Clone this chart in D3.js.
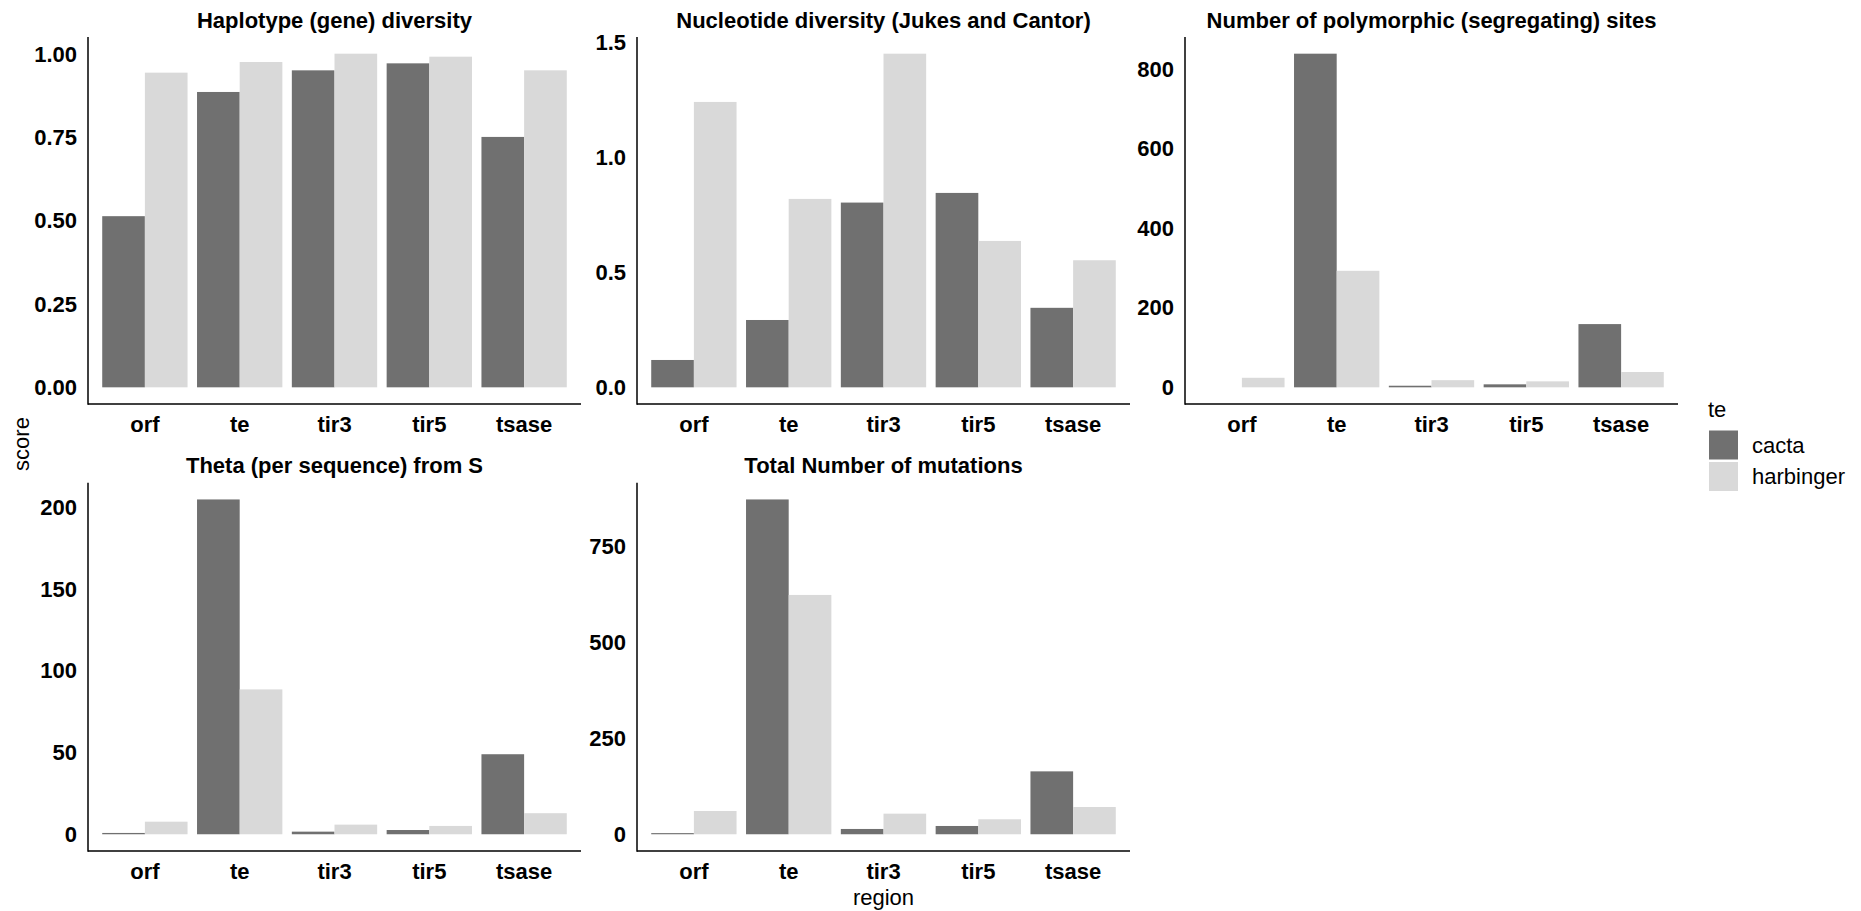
<!DOCTYPE html>
<html>
<head>
<meta charset="utf-8">
<script src="https://cdn.jsdelivr.net/npm/d3@7"></script>
<style>
  body { margin: 0; background: #fff; }
  text { font-family: "Liberation Sans", Arial, sans-serif; fill: #000; }
</style>
</head>
<body>
<div id="chart"></div>
<script>
// categories and series
var regions = ["orf", "te", "tir3", "tir5", "tsase"];
var teTypes = ["cacta", "harbinger"];
var panelTitles = [
    "Haplotype (gene) diversity",
    "Nucleotide diversity (Jukes and Cantor)",
    "Number of polymorphic (segregating) sites",
    "Theta (per sequence) from S",
    "Total Number of mutations"
];

// values, one array per panel and te type
var haploCacta = [0.514, 0.887, 0.952, 0.973, 0.752];
var haploHarb = [0.945, 0.977, 1.002, 0.993, 0.952];
var nucCacta = [0.119, 0.293, 0.804, 0.846, 0.346];
var nucHarb = [1.242, 0.82, 1.452, 0.637, 0.553];
var segCacta = [0, 839, 4, 7.5, 159];
var segHarb = [24, 293, 18, 15, 38.5];
var thetaCacta = [0.8, 205, 1.6, 2.6, 49];
var thetaHarb = [7.7, 88.7, 5.9, 5.1, 12.9];
var mutCacta = [3, 873, 13.8, 21.6, 164];
var mutHarb = [60.7, 624, 53.7, 39.1, 71];

var tickHaplo = [0, 0.25, 0.5, 0.75, 1];
var tickNuc = [0, 0.5, 1, 1.5];
var tickSeg = [0, 200, 400, 600, 800];
var tickTheta = [0, 50, 100, 150, 200];
var tickMut = [0, 250, 500, 750];

var W = 1861, H = 911;
var colors = { cacta: "#707070", harbinger: "#d9d9d9" };

var svg = d3.select("#chart").append("svg")
    .attr("width", W)
    .attr("height", H);

var cols = [[88, 581], [637, 1130], [1185, 1678]];
var rows = [[37, 404], [482.7, 851]];

var panels = [
    { title: panelTitles[0], cacta: haploCacta, harb: haploHarb, ticks: tickHaplo, fmt: d3.format(".2f"), col: 0, row: 0 },
    { title: panelTitles[1], cacta: nucCacta, harb: nucHarb, ticks: tickNuc, fmt: d3.format(".1f"), col: 1, row: 0 },
    { title: panelTitles[2], cacta: segCacta, harb: segHarb, ticks: tickSeg, fmt: d3.format("d"), col: 2, row: 0 },
    { title: panelTitles[3], cacta: thetaCacta, harb: thetaHarb, ticks: tickTheta, fmt: d3.format("d"), col: 0, row: 1 },
    { title: panelTitles[4], cacta: mutCacta, harb: mutHarb, ticks: tickMut, fmt: d3.format("d"), col: 1, row: 1 }
];

panels.forEach(function(p) {
    var x0 = cols[p.col][0], x1 = cols[p.col][1];
    var y0 = rows[p.row][0], y1 = rows[p.row][1];

    var rows2 = regions.map(function(r, i) {
        return { region: r, values: [
            { te: "cacta", v: p.cacta[i] },
            { te: "harbinger", v: p.harb[i] }
        ] };
    });
    var max = d3.max(p.cacta.concat(p.harb));

    var x = d3.scaleBand()
        .domain(regions)
        .range([x0, x1])
        .paddingInner(0.1)
        .paddingOuter(0.15);
    var xSub = d3.scaleBand()
        .domain(teTypes)
        .range([0, x.bandwidth()]);
    var y = d3.scaleLinear()
        .domain([-0.05 * max, 1.05 * max])
        .range([y1, y0]);

    var g = svg.append("g");

    // bars
    g.selectAll("g.grp")
        .data(rows2)
        .enter().append("g")
        .attr("class", "grp")
        .attr("transform", function(d) { return "translate(" + x(d.region) + ",0)"; })
        .selectAll("rect")
        .data(function(d) { return d.values; })
        .enter().append("rect")
        .attr("x", function(d) { return xSub(d.te); })
        .attr("width", xSub.bandwidth())
        .attr("y", function(d) { return y(d.v); })
        .attr("height", function(d) { return y(0) - y(d.v); })
        .attr("fill", function(d) { return colors[d.te]; });

    // y axis
    var ya = g.append("g")
        .attr("transform", "translate(" + x0 + ",0)")
        .call(d3.axisLeft(y).tickValues(p.ticks).tickFormat(p.fmt).tickSize(0).tickPadding(11));
    ya.select(".domain").remove();
    ya.selectAll("text")
        .style("font-size", "22px")
        .style("font-weight", "bold")
        .attr("fill", "#000");

    // x axis
    var xa = g.append("g")
        .attr("transform", "translate(0," + y1 + ")")
        .call(d3.axisBottom(x).tickSize(0).tickPadding(12));
    xa.select(".domain").remove();
    xa.selectAll("text")
        .style("font-size", "22px")
        .style("font-weight", "bold")
        .attr("fill", "#000");

    g.append("line")
        .attr("x1", x0).attr("x2", x0)
        .attr("y1", y0).attr("y2", y1 + 0.75)
        .attr("stroke", "#000").attr("stroke-width", 1.5);
    g.append("line")
        .attr("x1", x0).attr("x2", x1)
        .attr("y1", y1).attr("y2", y1)
        .attr("stroke", "#000").attr("stroke-width", 1.5);

    g.append("text")
        .attr("x", (x0 + x1) / 2)
        .attr("y", y0 - 9.5)
        .attr("text-anchor", "middle")
        .style("font-size", "22px")
        .style("font-weight", "bold")
        .text(p.title);
});

// axis titles
svg.append("text")
    .attr("x", (cols[1][0] + cols[1][1]) / 2)
    .attr("y", 905)
    .attr("text-anchor", "middle")
    .style("font-size", "22px")
    .text("region");

svg.append("text")
    .attr("transform", "translate(29,444) rotate(-90)")
    .attr("text-anchor", "middle")
    .style("font-size", "22px")
    .text("score");

// legend
var legend = svg.append("g").attr("transform", "translate(1708,0)");
legend.append("text")
    .attr("x", 0)
    .attr("y", 417)
    .style("font-size", "22px")
    .text("te");
var keys = legend.selectAll("g.key")
    .data(teTypes)
    .enter().append("g")
    .attr("class", "key")
    .attr("transform", function(d, i) { return "translate(0," + (429.5 + i * 31.5) + ")"; });
keys.append("rect")
    .attr("x", 1)
    .attr("y", 1)
    .attr("width", 29)
    .attr("height", 29)
    .attr("fill", function(d) { return colors[d]; });
keys.append("text")
    .attr("x", 44)
    .attr("y", 15.5)
    .attr("dy", "0.35em")
    .style("font-size", "22px")
    .text(function(d) { return d; });
</script>
</body>
</html>
